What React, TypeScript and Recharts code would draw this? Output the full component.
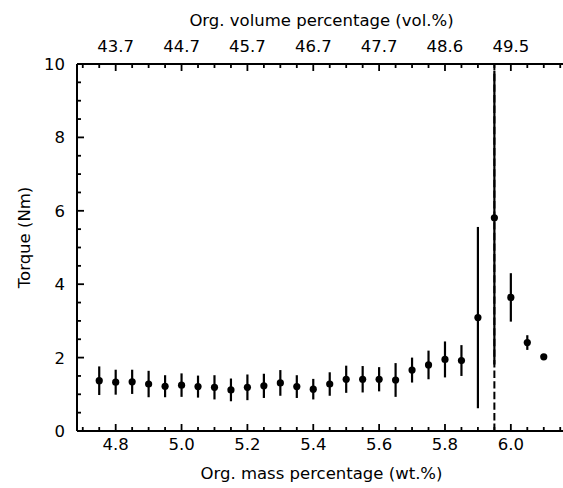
import React from 'react';
import {
  ComposedChart, Scatter, ErrorBar, XAxis, YAxis, ReferenceLine, Label,
} from 'recharts';

// organic mass percentage (wt.%) of each sample
const massPct = [
  4.75, 4.8, 4.85, 4.9, 4.95, 5.0, 5.05, 5.1, 5.15, 5.2, 5.25, 5.3, 5.35, 5.4,
  5.45, 5.5, 5.55, 5.6, 5.65, 5.7, 5.75, 5.8, 5.85, 5.9, 5.95, 6.0, 6.05, 6.1,
];
// mean torque (Nm)
const torque = [
  1.37, 1.33, 1.34, 1.28, 1.22, 1.25, 1.21, 1.19, 1.12, 1.19, 1.23, 1.31, 1.21, 1.14,
  1.28, 1.41, 1.41, 1.41, 1.39, 1.66, 1.8, 1.95, 1.92, 3.09, 5.81, 3.64, 2.41, 2.02,
];
// standard deviation (Nm)
const torqueErr = [
  0.39, 0.34, 0.33, 0.36, 0.3, 0.32, 0.3, 0.33, 0.31, 0.35, 0.33, 0.35, 0.31, 0.28,
  0.32, 0.37, 0.36, 0.33, 0.46, 0.34, 0.39, 0.49, 0.42, 2.47, 4.0, 0.66, 0.2, 0.03,
];

const massTicks = [4.8, 5.0, 5.2, 5.4, 5.6, 5.8, 6.0];
const volTickLabels = ['43.7', '44.7', '45.7', '46.7', '47.7', '48.6', '49.5'];
const torqueTicks = [0, 2, 4, 6, 8, 10];
const criticalMass = 5.95;

const points = massPct.map((m, i) => ({ mass: m, torque: torque[i], err: torqueErr[i] }));

// minor ticks every 0.05 wt.% and 0.5 Nm
const xMinor: number[] = [];
for (let k = 94; k <= 123; k++) xMinor.push(Math.round(k * 5) / 100);
const yMinor: number[] = [];
for (let k = 0; k <= 20; k++) yMinor.push(k / 2);

const FONT = '"DejaVu Sans", sans-serif';
const FS = 16.5;
const MAJOR = 7;
const MINOR = 4;
const TW = 1.8;

const isMajor = (list: number[], v: number) => list.some((m) => Math.abs(m - v) < 1e-6);

// ticks point inward, like matplotlib direction='in'
const BottomTick = (props: any) => {
  const { x, y, payload } = props;
  const major = isMajor(massTicks, payload.value);
  return (
    <g>
      <line x1={x} x2={x} y1={y} y2={y - (major ? MAJOR : MINOR)} stroke="#000" strokeWidth={TW} />
      {major && (
        <text x={x} y={y + 19} textAnchor="middle" fontSize={FS} fontFamily={FONT} fill="#000">
          {payload.value.toFixed(1)}
        </text>
      )}
    </g>
  );
};

const TopTick = (props: any) => {
  const { x, y, payload } = props;
  const idx = massTicks.findIndex((m) => Math.abs(m - payload.value) < 1e-6);
  const major = idx >= 0;
  return (
    <g>
      <line x1={x} x2={x} y1={y} y2={y + (major ? MAJOR : MINOR)} stroke="#000" strokeWidth={TW} />
      {major && (
        <text x={x} y={y - 12.5} textAnchor="middle" fontSize={FS} fontFamily={FONT} fill="#000">
          {volTickLabels[idx]}
        </text>
      )}
    </g>
  );
};

const LeftTick = (props: any) => {
  const { x, y, payload } = props;
  const major = isMajor(torqueTicks, payload.value);
  return (
    <g>
      <line x1={x} x2={x + (major ? MAJOR : MINOR)} y1={y} y2={y} stroke="#000" strokeWidth={TW} />
      {major && (
        <text x={x - 12} y={y + 6} textAnchor="end" fontSize={FS} fontFamily={FONT} fill="#000">
          {payload.value}
        </text>
      )}
    </g>
  );
};

const RightTick = (props: any) => {
  const { x, y, payload } = props;
  const major = isMajor(torqueTicks, payload.value);
  return (
    <line x1={x} x2={x - (major ? MAJOR : MINOR)} y1={y} y2={y} stroke="#000" strokeWidth={TW} />
  );
};

const Dot = (props: any) => <circle cx={props.cx} cy={props.cy} r={3.6} fill="#000" />;

export default function App() {
  const axisLine = { stroke: '#000', strokeWidth: 2 };
  const xDomain = [4.6825, 6.1675];
  return (
    <div style={{ position: 'absolute', left: 0, top: 0, width: 563, height: 488, overflow: 'hidden', background: '#fff' }}>
      <ComposedChart width={570} height={488} data={points} margin={{ top: 0, right: 0, bottom: 0, left: 0 }}>
        <ReferenceLine xAxisId="bottom" yAxisId="left" x={criticalMass} stroke="#000" strokeWidth={2} strokeDasharray="7.4 3.2" />
        <Scatter xAxisId="bottom" yAxisId="left" dataKey="torque" fill="#000" shape={<Dot />} isAnimationActive={false}>
          <ErrorBar dataKey="err" direction="y" width={0} stroke="#000" strokeWidth={2.2} isAnimationActive={false} />
        </Scatter>
        <XAxis xAxisId="bottom" dataKey="mass" type="number" orientation="bottom" domain={xDomain} allowDataOverflow
          ticks={xMinor} interval={0} height={57} tickSize={0} tickMargin={0} tickLine={false} axisLine={axisLine} tick={<BottomTick />}>
          <Label value="Org. mass percentage (wt.%)" position="insideBottom" offset={9}
            style={{ fontSize: FS, fontFamily: FONT, fill: '#000' }} />
        </XAxis>
        <XAxis xAxisId="top" dataKey="mass" type="number" orientation="top" domain={xDomain} allowDataOverflow
          ticks={xMinor} interval={0} height={64} tickSize={0} tickMargin={0} tickLine={false} axisLine={axisLine} tick={<TopTick />}>
          <Label value="Org. volume percentage (vol.%)" position="insideTop" offset={14}
            style={{ fontSize: FS, fontFamily: FONT, fill: '#000' }} />
        </XAxis>
        <YAxis yAxisId="left" dataKey="torque" type="number" domain={[0, 10]} allowDataOverflow
          ticks={yMinor} interval={0} width={77} tickSize={0} tickMargin={0} tickLine={false} axisLine={axisLine} tick={<LeftTick />}>
          <Label value="Torque (Nm)" angle={-90} position="insideLeft" offset={24} dy={-10}
            style={{ fontSize: FS, fontFamily: FONT, fill: '#000', textAnchor: 'middle' }} />
        </YAxis>
        <YAxis yAxisId="right" orientation="right" type="number" domain={[0, 10]}
          ticks={yMinor} interval={0} width={4} tickSize={0} tickMargin={0} tickLine={false} axisLine={axisLine} tick={<RightTick />} />
      </ComposedChart>
    </div>
  );
}
